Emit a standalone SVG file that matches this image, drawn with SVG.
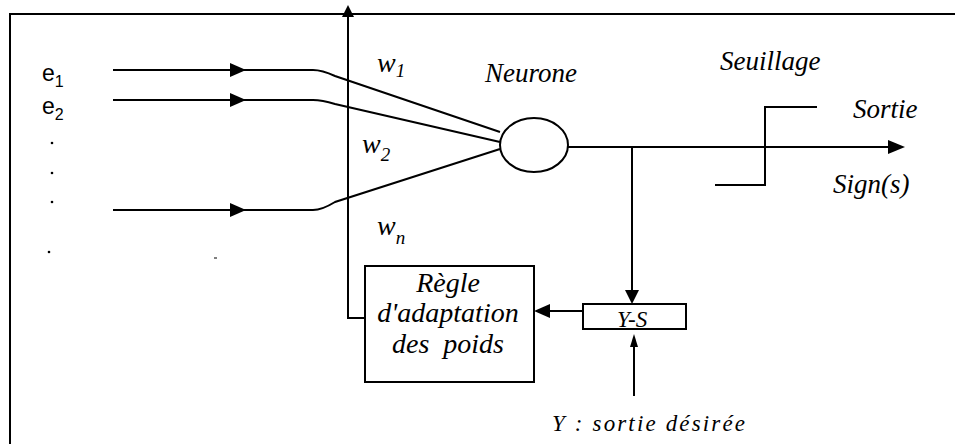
<svg xmlns="http://www.w3.org/2000/svg" width="959" height="444" viewBox="0 0 959 444">
<style>
.ln{fill:none;stroke:#000;stroke-width:2}
.it{font-family:"Liberation Serif","Times New Roman",serif;font-style:italic;fill:#000}
.sn{font-family:"Liberation Sans",Arial,sans-serif;fill:#000}
</style>
<rect width="959" height="444" fill="#fff"/>
<g id="frame">
<path class="ln" d="M10,444 V14 H955" stroke-width="2.5"/>
</g>
<g id="connectors">
<path class="ln" d="M113,70 H313 Q322,70 335,76 L500,132"/>
<path class="ln" d="M113,100 H313 Q322,100 335,104 L500,142"/>
<path class="ln" d="M113,210 H313 Q322,210 335,202 L500,149"/>
<path d="M230,63 L246,70 L230,77 z"/>
<path d="M230,93 L246,100 L230,107 z"/>
<path d="M230,203 L246,210 L230,217 z"/>
<path class="ln" d="M568,147 H890"/>
<path d="M888,140 L905,147 L888,154 z"/>
<path class="ln" d="M632,147 V291"/>
<path d="M625,290 L632,304 L639,290 z"/>
<path class="ln" d="M634,396 V345"/>
<path d="M630,347 L634,334 L638,347 z"/>
<path class="ln" d="M583,311 H548"/>
<path d="M550,304 L534,311 L550,318 z"/>
<path class="ln" d="M365,318 H348 V16"/>
<path d="M342,17 L348,5 L354,17 z"/>
</g>
<g id="inputs">
<text class="sn" x="42" y="81" font-size="23">e<tspan font-size="16" dy="6">1</tspan></text>
<text class="sn" x="42" y="114" font-size="23">e<tspan font-size="16" dy="6">2</tspan></text>
<circle cx="52" cy="143" r="1.3"/>
<circle cx="52" cy="173" r="1.3"/>
<circle cx="52" cy="202" r="1.3"/>
<circle cx="49" cy="252" r="1.3"/>
<path d="M214,258 H217" stroke="#000" stroke-width="1"/>
</g>
<g id="weights">
<text class="it" x="377" y="72" font-size="28">w<tspan font-size="19" dy="5">1</tspan></text>
<text class="it" x="362" y="153" font-size="28">w<tspan font-size="19" dy="8">2</tspan></text>
<text class="it" x="377" y="235" font-size="28">w<tspan font-size="19" dy="9">n</tspan></text>
</g>
<g id="neurone">
<ellipse class="ln" cx="534" cy="145" rx="34" ry="27"/>
<text class="it" x="485" y="82" font-size="27">Neurone</text>
</g>
<g id="seuillage">
<path class="ln" d="M715,185 H765 V107 H817"/>
<text class="it" x="720" y="70" font-size="27">Seuillage</text>
<text class="it" x="853" y="118" font-size="27">Sortie</text>
<text class="it" x="833" y="193" font-size="27">Sign(s)</text>
</g>
<g id="regle">
<rect class="ln" x="365" y="266" width="169" height="116"/>
<text class="it" x="448" y="292" font-size="28" text-anchor="middle">Règle</text>
<text class="it" x="448" y="322" font-size="28" text-anchor="middle">d'adaptation</text>
<text class="it" x="448" y="353" font-size="28" text-anchor="middle" xml:space="preserve">des  poids</text>
</g>
<g id="ys">
<rect class="ln" x="583" y="304" width="103" height="25"/>
<text class="it" x="617" y="327" font-size="23">Y-S</text>
</g>
<g id="desired">
<text class="it" x="552" y="431" font-size="23" textLength="193">Y : sortie désirée</text>
</g>
</svg>
